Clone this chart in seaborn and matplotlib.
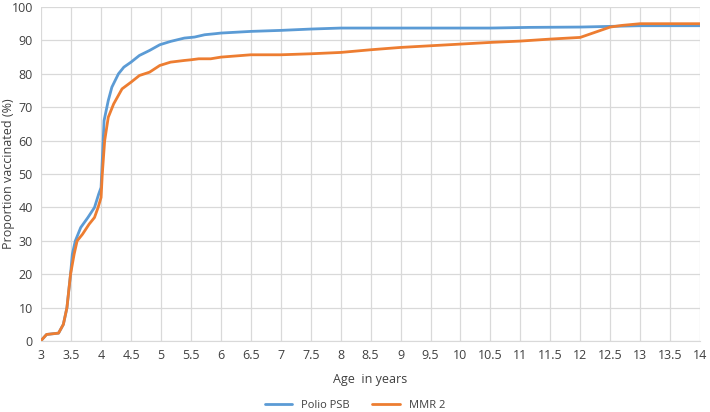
import matplotlib
matplotlib.use("Agg")
import matplotlib.pyplot as plt
import seaborn as sns
import pandas as pd

polio_age = [3.0, 3.09, 3.29, 3.37, 3.43, 3.49, 3.52, 3.57, 3.66, 3.78, 3.89, 3.96, 4.0, 4.02, 4.05,
             4.12, 4.18, 4.29, 4.38, 4.5, 4.64, 4.81, 4.98, 5.16, 5.39, 5.56, 5.73, 5.9, 6.0, 6.5,
             7.0, 7.5, 8.0, 8.5, 9.5, 10.5, 11.15, 12.0, 12.5, 13.0, 14.0]
polio_pct = [0.2, 2.0, 2.4, 5.0, 10.0, 20.0, 26.0, 30.0, 34.0, 37.0, 40.0, 44.0, 46.0, 54.0, 66.0,
             72.0, 76.0, 80.0, 82.0, 83.5, 85.5, 87.0, 88.7, 89.7, 90.7, 91.0, 91.7, 92.0, 92.2, 92.7,
             93.0, 93.4, 93.7, 93.7, 93.7, 93.7, 93.9, 94.0, 94.2, 94.4, 94.4]

mmr_age = [3.0, 3.09, 3.29, 3.37, 3.43, 3.49, 3.55, 3.6, 3.69, 3.8, 3.89, 3.95, 4.0, 4.02, 4.06,
           4.12, 4.21, 4.35, 4.5, 4.64, 4.81, 4.98, 5.16, 5.39, 5.5, 5.63, 5.83, 6.0, 6.5, 7.0,
           7.5, 8.0, 8.5, 9.0, 9.5, 10.0, 10.5, 11.0, 11.5, 12.0, 12.5, 12.7, 13.0, 14.0]
mmr_pct = [0.2, 2.0, 2.4, 5.0, 10.0, 20.0, 26.0, 30.0, 32.0, 35.0, 37.0, 40.0, 43.0, 50.0, 60.0,
           67.0, 71.0, 75.5, 77.5, 79.5, 80.5, 82.5, 83.5, 84.0, 84.2, 84.5, 84.5, 85.0, 85.7, 85.7,
           86.0, 86.4, 87.2, 87.9, 88.4, 88.9, 89.4, 89.8, 90.4, 90.9, 94.0, 94.5, 95.0, 95.0]

series_names = ["Polio PSB", "MMR 2"]
x_ticks = [3 + 0.5 * i for i in range(23)]
x_tick_labels = [("%g" % v) for v in x_ticks]
y_ticks = list(range(0, 101, 10))

df = pd.concat([
    pd.DataFrame({"age": polio_age, "pct": polio_pct, "series": series_names[0]}),
    pd.DataFrame({"age": mmr_age, "pct": mmr_pct, "series": series_names[1]}),
])

sns.set_style("white")
plt.rcParams["font.family"] = ["Open Sans", "DejaVu Sans"]

fig = plt.figure(figsize=(7.1, 4.12), dpi=100)
ax = fig.add_axes([0.058, 0.172, 0.928, 0.811])
sns.lineplot(data=df, x="age", y="pct", hue="series", hue_order=series_names,
             palette=["#5B9BD5", "#ED7D31"], linewidth=2.0, ax=ax, sort=False,
             estimator=None, legend=True)

ax.set_xlim(3, 14)
ax.set_ylim(0, 100)
ax.set_xticks(x_ticks)
ax.set_xticklabels(x_tick_labels)
ax.set_yticks(y_ticks)
ax.grid(True, color="#D9D9D9", linewidth=0.9)
ax.set_axisbelow(True)
for s in ["top", "right", "left"]:
    ax.spines[s].set_visible(False)
ax.spines["bottom"].set_color("#D9D9D9")
ax.tick_params(axis="both", length=0, labelsize=9, colors="#404040", pad=6)
ax.set_xlabel("Age  in years", fontsize=9, color="#404040")
ax.set_ylabel("Proportion vaccinated (%)", fontsize=9, color="#404040")
ax.yaxis.label.set_va("center")
ax.yaxis.set_label_coords(-0.049, 0.5)
ax.xaxis.set_label_coords(0.5, -0.096)

handles, labels = ax.get_legend_handles_labels()
ax.get_legend().remove()
fig.legend(handles, labels, loc="center", bbox_to_anchor=(0.5, 0.016), ncol=2,
           frameon=False, fontsize=8, handlelength=2.5, columnspacing=2.0,
           labelcolor="#404040", borderpad=0.1)

fig.savefig("out.png", dpi=100)
